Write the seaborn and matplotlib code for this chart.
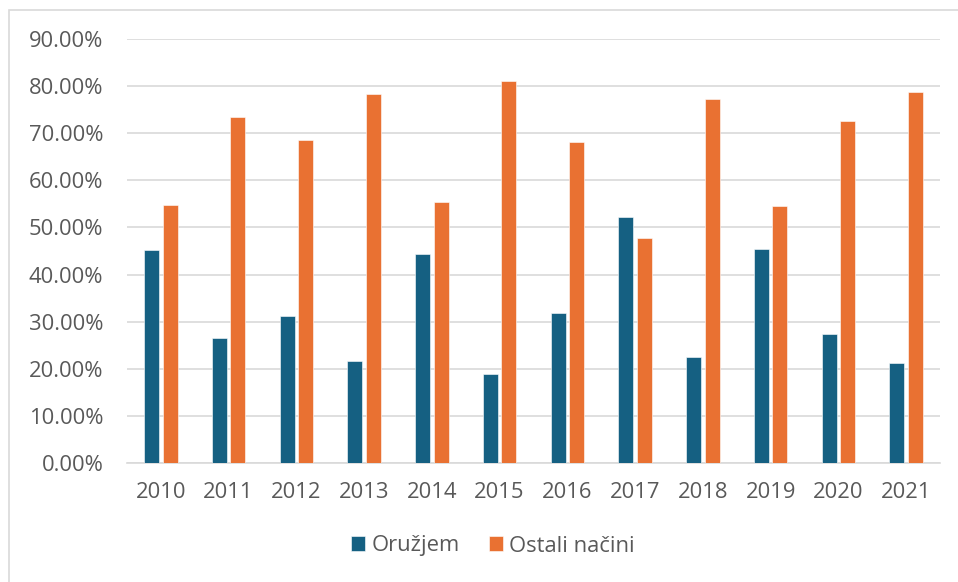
import numpy as np
import pandas as pd
import matplotlib
matplotlib.use("Agg")
import matplotlib.pyplot as plt
import seaborn as sns
from matplotlib.patches import Rectangle
from matplotlib.ticker import PercentFormatter

godine = ["2010", "2011", "2012", "2013", "2014", "2015",
          "2016", "2017", "2018", "2019", "2020", "2021"]
oruzjem = [45.2, 26.5, 31.3, 21.7, 44.4, 18.9, 31.8, 52.2, 22.6, 45.4, 27.4, 21.2]
ostali = [54.8, 73.4, 68.6, 78.3, 55.5, 81.1, 68.1, 47.8, 77.3, 54.5, 72.5, 78.8]
serije = ["Oružjem", "Ostali načini"]
boje = ["#156082", "#E97132"]

df = pd.DataFrame({
    "Godina": godine * 2,
    "Udio": np.array(oruzjem + ostali) / 100,
    "Serija": [serije[0]] * len(godine) + [serije[1]] * len(godine),
})

sns.set_theme(style="white")
plt.rcParams["font.family"] = ["Open Sans", "DejaVu Sans"]
siva_tekst = "#595959"
vel = 15.8

fig = plt.figure(figsize=(9.58, 5.82), dpi=100)
ax = fig.add_axes([127 / 958, 1 - 463 / 582, (940 - 127) / 958, (463 - 39) / 582])

sns.barplot(data=df, x="Godina", y="Udio", hue="Serija", palette=boje,
            width=0.55, gap=0.2, saturation=1, ax=ax, edgecolor="white",
            linewidth=0.4, zorder=3)

ax.set_ylim(0, 0.9)
ax.set_yticks(np.arange(0, 0.91, 0.1))
ax.yaxis.set_major_formatter(PercentFormatter(1.0, decimals=2))
ax.grid(axis="y", color="#D9D9D9", linewidth=1.2, zorder=0)
ax.set_axisbelow(True)
for s in ["top", "right", "left"]:
    ax.spines[s].set_visible(False)
ax.spines["bottom"].set_color("#D9D9D9")
ax.spines["bottom"].set_linewidth(1.2)
ax.set_xlabel("")
ax.set_ylabel("")
ax.tick_params(axis="y", length=0, pad=17, labelsize=vel, labelcolor=siva_tekst)
ax.tick_params(axis="x", length=0, pad=14, labelsize=vel, labelcolor=siva_tekst)

ax.legend(loc="center", bbox_to_anchor=(493 / 958, 1 - 546 / 582),
          bbox_transform=fig.transFigure, ncol=2, frameon=False,
          fontsize=vel, handlelength=0.65, handleheight=0.65,
          handletextpad=0.3, columnspacing=1.3, labelcolor=siva_tekst)

fig.patches.append(Rectangle((9 / 958, -0.1), 1.2, 1 - 10 / 582 + 0.1,
                             transform=fig.transFigure, fill=False,
                             edgecolor="#D9D9D9", linewidth=1.2))

fig.savefig("out.png", dpi=100)
